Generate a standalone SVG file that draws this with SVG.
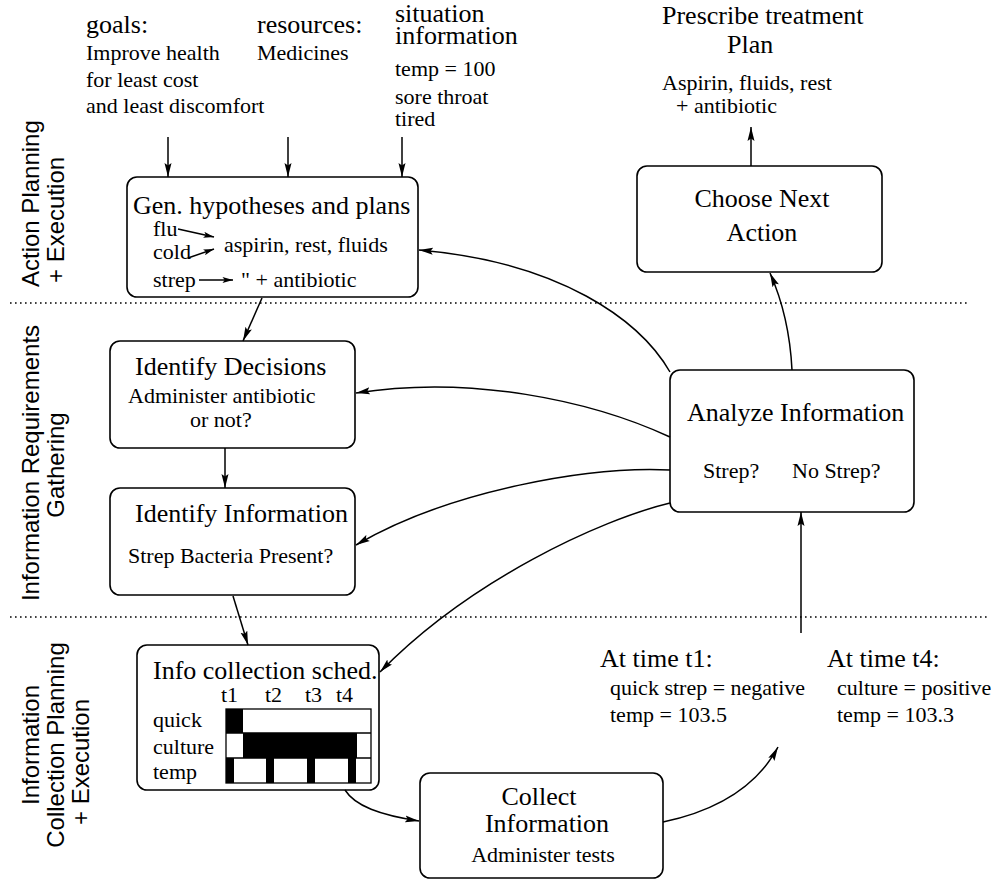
<svg xmlns="http://www.w3.org/2000/svg" width="1000" height="880" viewBox="0 0 1000 880">
  <style>
    .t { font-family: "Liberation Serif", "Times New Roman", serif; fill: #000; }
    .h { font-size: 26px; }
    .b { font-size: 22px; }
    .side { font-family: "Liberation Sans", Arial, sans-serif; font-size: 24px; fill: #000; }
    .box { fill: #fff; stroke: #000; stroke-width: 1.6; }
    .ln { fill: none; stroke: #000; stroke-width: 1.5; }
    .dot { fill: none; stroke: #000; stroke-width: 1.6; stroke-dasharray: 1.6 3.4; }
    .blk { fill: #000; }
  </style>
  <defs>
    <marker id="ah" viewBox="0 0 14 8" refX="14" refY="4" markerWidth="14" markerHeight="8" markerUnits="userSpaceOnUse" orient="auto">
      <path d="M0,0.5 L14,4 L0,7.5 L2.5,4 z" fill="#000"/>
    </marker>
    <marker id="ahs" viewBox="0 0 14 8" refX="14" refY="4" markerWidth="13" markerHeight="6" markerUnits="userSpaceOnUse" orient="auto">
      <path d="M0,0 L14,4 L0,8 L3,4 z" fill="#000"/>
    </marker>
  </defs>

  <!-- band separators -->
  <g id="separators">
    <line class="dot" x1="10" y1="303" x2="970" y2="303"/>
    <line class="dot" x1="10" y1="617" x2="990" y2="617"/>
  </g>

  <!-- band titles -->
  <g id="band-labels">
    <text class="side" transform="translate(39,287) rotate(-90)">Action Planning</text>
    <text class="side" transform="translate(64,283) rotate(-90)">+ Execution</text>
    <text class="side" text-anchor="middle" transform="translate(39,463) rotate(-90)">Information Requirements</text>
    <text class="side" text-anchor="middle" transform="translate(64,465) rotate(-90)">Gathering</text>
    <text class="side" text-anchor="middle" transform="translate(39,745) rotate(-90)">Information</text>
    <text class="side" text-anchor="middle" transform="translate(64,745) rotate(-90)">Collection Planning</text>
    <text class="side" text-anchor="middle" transform="translate(89,762) rotate(-90)">+ Execution</text>
  </g>

  <!-- inputs -->
  <g id="goals">
    <text class="t h" x="86" y="33">goals:</text>
    <text class="t b" x="86" y="60">Improve health</text>
    <text class="t b" x="86" y="87">for least cost</text>
    <text class="t b" x="86" y="113">and least discomfort</text>
  </g>
  <g id="resources">
    <text class="t h" x="257" y="33">resources:</text>
    <text class="t b" x="257" y="60">Medicines</text>
  </g>
  <g id="situation">
    <text class="t h" x="395" y="22">situation</text>
    <text class="t h" x="395" y="44">information</text>
    <text class="t b" x="395" y="76">temp = 100</text>
    <text class="t b" x="395" y="104">sore throat</text>
    <text class="t b" x="395" y="126">tired</text>
  </g>

  <!-- outcome -->
  <g id="plan">
    <text class="t h" x="662" y="24">Prescribe treatment</text>
    <text class="t h" x="727" y="53">Plan</text>
    <text class="t b" x="662" y="90">Aspirin, fluids, rest</text>
    <text class="t b" x="676" y="113">+ antibiotic</text>
  </g>

  <!-- process boxes -->
  <g id="gen-hypotheses">
    <rect class="box" x="127" y="177" width="291" height="120" rx="10"/>
    <text class="t h" x="133" y="214">Gen. hypotheses and plans</text>
    <text class="t b" x="153" y="236">flu</text>
    <text class="t b" x="153" y="259">cold</text>
    <text class="t b" x="224" y="252">aspirin, rest, fluids</text>
    <text class="t b" x="153" y="287">strep</text>
    <text class="t b" x="241" y="287">" + antibiotic</text>
    <line class="ln" x1="178" y1="229" x2="214" y2="237" marker-end="url(#ahs)"/>
    <line class="ln" x1="188" y1="258" x2="214" y2="249" marker-end="url(#ahs)"/>
    <line class="ln" x1="199" y1="280" x2="233" y2="280" marker-end="url(#ahs)"/>
  </g>

  <g id="choose-action">
    <rect class="box" x="637" y="166" width="245" height="106" rx="10"/>
    <text class="t h" x="762" y="207" text-anchor="middle">Choose Next</text>
    <text class="t h" x="762" y="241" text-anchor="middle">Action</text>
  </g>

  <g id="identify-decisions">
    <rect class="box" x="110" y="341" width="245" height="107" rx="10"/>
    <text class="t h" x="135" y="375">Identify Decisions</text>
    <text class="t b" x="128" y="403">Administer antibiotic</text>
    <text class="t b" x="190" y="427">or not?</text>
  </g>

  <g id="identify-information">
    <rect class="box" x="110" y="488" width="245" height="107" rx="10"/>
    <text class="t h" x="135" y="522">Identify Information</text>
    <text class="t b" x="128" y="563">Strep Bacteria Present?</text>
  </g>

  <g id="analyze-information">
    <rect class="box" x="670" y="370" width="244" height="142" rx="10"/>
    <text class="t h" x="687" y="421">Analyze Information</text>
    <text class="t b" x="703" y="478">Strep?</text>
    <text class="t b" x="792" y="478">No Strep?</text>
  </g>

  <g id="collection-schedule">
    <rect class="box" x="137" y="645" width="242" height="145" rx="10"/>
    <text class="t h" x="153" y="679">Info collection sched.</text>
    <text class="t b" x="221" y="702">t1</text>
    <text class="t b" x="265" y="702">t2</text>
    <text class="t b" x="305" y="702">t3</text>
    <text class="t b" x="336" y="702">t4</text>
    <text class="t b" x="153" y="727">quick</text>
    <text class="t b" x="153" y="754">culture</text>
    <text class="t b" x="153" y="779">temp</text>
    <!-- timeline grid -->
    <rect class="blk" x="226" y="709" width="17" height="24"/>
    <rect class="blk" x="243" y="733" width="114" height="25"/>
    <rect class="blk" x="226" y="758" width="8" height="25"/>
    <rect class="blk" x="266" y="758" width="8" height="25"/>
    <rect class="blk" x="307" y="758" width="8" height="25"/>
    <rect class="blk" x="348" y="758" width="8" height="25"/>
    <rect x="226" y="709" width="145" height="74" fill="none" stroke="#000" stroke-width="1.3"/>
    <line x1="226" y1="733" x2="371" y2="733" stroke="#000" stroke-width="1.3"/>
    <line x1="226" y1="758" x2="371" y2="758" stroke="#000" stroke-width="1.3"/>
  </g>

  <g id="collect-information">
    <rect class="box" x="420" y="773" width="243" height="105" rx="10"/>
    <text class="t h" x="539" y="805" text-anchor="middle">Collect</text>
    <text class="t h" x="547" y="832" text-anchor="middle">Information</text>
    <text class="t b" x="543" y="862" text-anchor="middle">Administer tests</text>
  </g>

  <!-- results -->
  <g id="results-t1">
    <text class="t h" x="600" y="667">At time t1:</text>
    <text class="t b" x="610" y="695">quick strep = negative</text>
    <text class="t b" x="610" y="722">temp = 103.5</text>
  </g>
  <g id="results-t4">
    <text class="t h" x="827" y="667">At time t4:</text>
    <text class="t b" x="837" y="695">culture = positive</text>
    <text class="t b" x="837" y="722">temp = 103.3</text>
  </g>

  <!-- connectors -->
  <g id="connectors">
    <line class="ln" x1="168" y1="137" x2="168" y2="177" marker-end="url(#ah)"/>
    <line class="ln" x1="288" y1="137" x2="288" y2="177" marker-end="url(#ah)"/>
    <line class="ln" x1="402" y1="137" x2="402" y2="177" marker-end="url(#ah)"/>
    <line class="ln" x1="751" y1="166" x2="751" y2="127" marker-end="url(#ah)"/>
    <path class="ln" d="M792,370 C790,330 782,300 770,273" marker-end="url(#ah)"/>
    <path class="ln" d="M670,372 C640,320 560,262 419,250" marker-end="url(#ah)"/>
    <path class="ln" d="M670,437 C590,400 470,375 356,393" marker-end="url(#ah)"/>
    <path class="ln" d="M670,470 C590,466 450,490 356,545" marker-end="url(#ah)"/>
    <path class="ln" d="M670,503 C600,520 470,580 380,672" marker-end="url(#ah)"/>
    <line class="ln" x1="262" y1="298" x2="243" y2="341" marker-end="url(#ah)"/>
    <line class="ln" x1="225" y1="448" x2="225" y2="488" marker-end="url(#ah)"/>
    <line class="ln" x1="233" y1="596" x2="248" y2="645" marker-end="url(#ah)"/>
    <path class="ln" d="M345,790 C355,806 380,815 419,821" marker-end="url(#ah)"/>
    <path class="ln" d="M663,822 C710,812 755,790 778,747" marker-end="url(#ah)"/>
    <line class="ln" x1="801" y1="633" x2="801" y2="512" marker-end="url(#ah)"/>
  </g>
</svg>
